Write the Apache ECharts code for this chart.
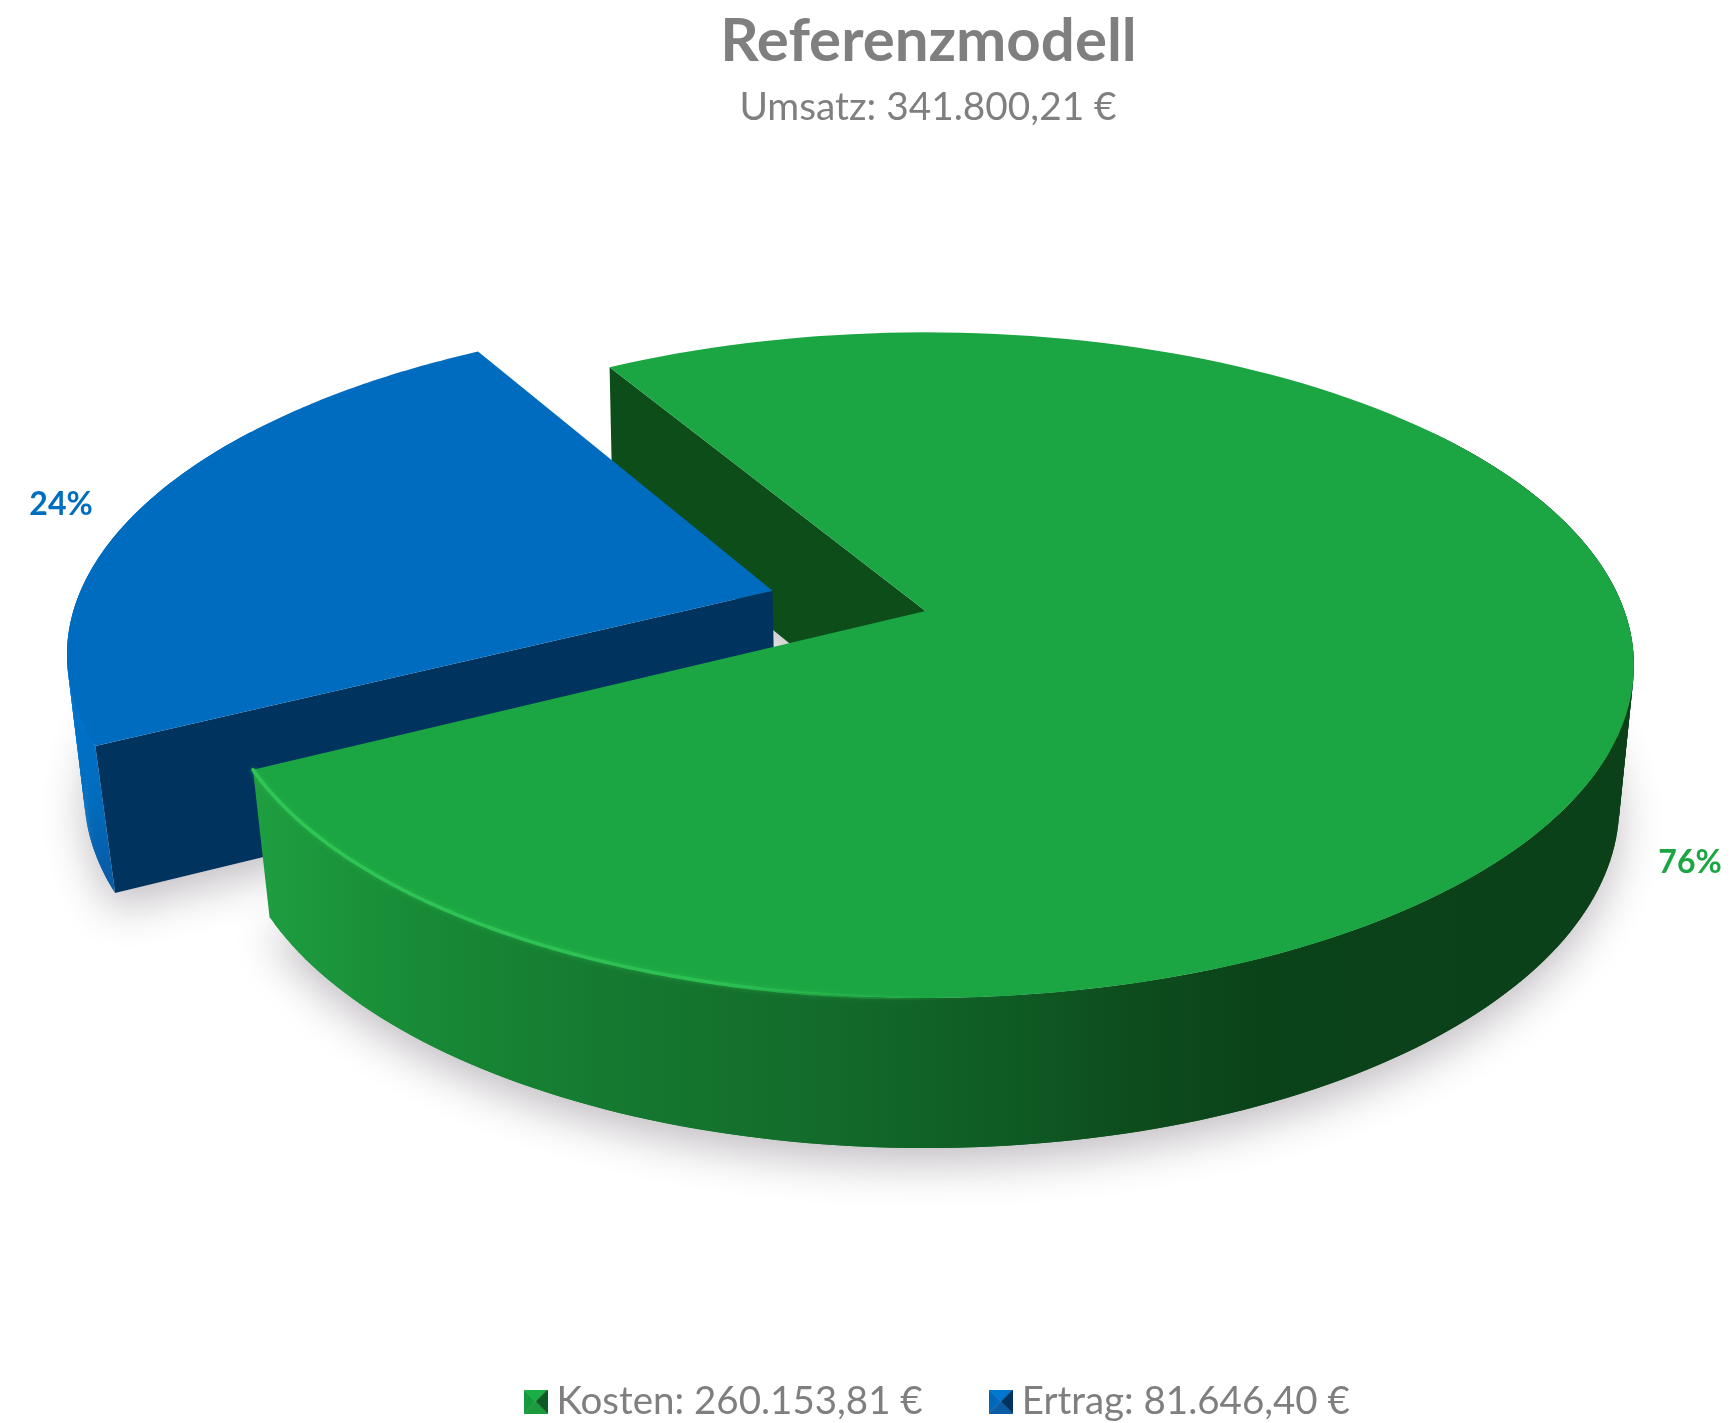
<!DOCTYPE html>
<html><head><meta charset="utf-8">
<style>html,body{margin:0;padding:0;background:#fff}#c{width:1734px;height:1423px}</style>
<script src="https://cdn.jsdelivr.net/npm/echarts@6/dist/echarts.min.js"></script>
</head><body><div id="c"></div>
<script>
const categories = ['Kosten', 'Ertrag'];
const values = [260153.81, 81646.40];
const valueTexts = ['260.153,81 €', '81.646,40 €'];
const titleText = 'Referenzmodell';
const subtitleText = 'Umsatz: 341.800,21 €';

const total = values.reduce((a, b) => a + b, 0);
const FONT = 'Lato, "Open Sans", sans-serif';
const GREY = '#7f7f7f';
const CX = 925.5, START_DEG = 329;
const TOP = {cy: 611, R: 699, H: 324, k: 0.1628};
const BOT = {cy: 754, R: 686, H: 335, k: 0.15};
const EXPLODE = [0, 0.23];
const LABEL_POS = [[1690, 863], [61, 505]];
const LABEL_COLOR = ['#1ca643', '#006ebe'];
const LABEL_FONT = 'bold 32px ' + FONT;

const rad = d => d * Math.PI / 180;
function proj(p, u, v) {
  const w = 1 + p.k * v;
  return [CX + p.R * u / w, p.cy - p.H * v / w];
}
function seriesOf(i) {
  let a0 = START_DEG;
  for (let j = 0; j < i; j++) a0 += values[j] / total * 360;
  const a1 = a0 + values[i] / total * 360;
  const mid = rad((a0 + a1) / 2);
  const e = EXPLODE[i];
  return {a0, a1, ou: Math.sin(mid) * e, ov: Math.cos(mid) * e};
}
function arc(p, s, from, to) {
  const pts = [], n = 160;
  for (let t = 0; t <= n; t++) {
    const d = rad(from + (to - from) * t / n);
    pts.push(proj(p, Math.sin(d) + s.ou, Math.cos(d) + s.ov));
  }
  return pts;
}
const hGrad = (x0, x1, stops) => ({type: 'linear', x: x0, y: 0, x2: x1, y2: 0, global: true,
  colorStops: stops.map(s => ({offset: (s[0] - x0) / (x1 - x0), color: s[1]}))});
const poly = (points, style, z2) => ({type: 'polygon', shape: {points}, style, z2, silent: true});
const line = (points, stroke, lineWidth, z2, glow) => ({type: 'polyline', shape: {points},
  style: {stroke, lineWidth, fill: null, lineCap: 'round', shadowBlur: glow ? 5 : 0, shadowColor: glow || 'transparent'}, z2, silent: true});
const shadow = {fill: '#fff', shadowBlur: 42, shadowColor: 'rgba(70,60,70,0.32)', shadowOffsetY: 16};
const label = (i, val) => ({type: 'text', x: LABEL_POS[i][0], y: LABEL_POS[i][1], z2: 20, silent: true,
  style: {text: Math.round(val / total * 100) + '%', fill: LABEL_COLOR[i], font: LABEL_FONT, align: 'center', verticalAlign: 'middle'}});
// the side wall is swept as overlapping strips so that its silhouette joins the two rims
function strips(s, from, to, fill, z2) {
  const a = arc(TOP, s, from, to), b = arc(BOT, s, from, to), out = [];
  for (let i = 0; i + 2 < a.length; i += 1) out.push(poly([a[i], a[i + 2], b[i + 2], b[i]], {fill}, z2));
  return out;
}

function renderKosten(params, api) {
  const s = seriesOf(0);
  const apexT = proj(TOP, s.ou, s.ov), apexB = proj(BOT, s.ou, s.ov);
  const topRim = arc(TOP, s, s.a0, s.a1), botRim = arc(BOT, s, s.a0, s.a1);
  const wall = hGrad(260, 1650, [[260, '#1e9e40'], [420, '#188a36'], [600, '#157a30'], [820, '#136b2b'],
    [1000, '#0f5c25'], [1130, '#0d4d1d'], [1260, '#0b4319'], [1650, '#0b4019']]);
  return {type: 'group', children: [
    poly(botRim.concat([apexB]), shadow, 1),
    poly([topRim[0], apexT, apexB, botRim[0]], {fill: '#0c4d1a'}, 2),
    ...strips(s, s.a1 - 190, s.a1, wall, 10),
    poly(topRim.concat([apexT]), {fill: '#1ca643'}, 11),
    line(arc(TOP, s, s.a1 - 70, s.a1), hGrad(260, 950, [[260, '#30c656'], [720, '#2cc052'], [950, 'rgba(40,184,76,0)']]), 3.5, 12, 'rgba(44,192,82,0.55)'),
    label(0, api.value(0))
  ]};
}
function renderErtrag(params, api) {
  const s = seriesOf(1);
  const apexT = proj(TOP, s.ou, s.ov), apexB = proj(BOT, s.ou, s.ov);
  const topRim = arc(TOP, s, s.a0, s.a1), botRim = arc(BOT, s, s.a0, s.a1);
  const wall = {type: 'linear', x: 0, y: 640, x2: 0, y2: 900, global: true,
    colorStops: [{offset: 0, color: '#0078d4'}, {offset: 0.6, color: '#006cbe'}, {offset: 1, color: '#0a57a0'}]};
  return {type: 'group', children: [
    poly(botRim.concat([apexB]), shadow, 1),
    ...strips(s, s.a0, s.a0 + 60, wall, 3),
    poly([topRim[0], apexT, apexB, botRim[0]], {fill: '#00335e'}, 4),
    poly(topRim.concat([apexT]), {fill: '#006cbf'}, 5),
    label(1, api.value(0))
  ]};
}
function bevelIcon(c) {
  const cv = document.createElement('canvas'); cv.width = cv.height = 48;
  const g = cv.getContext('2d'), tri = (pts, col) => { g.fillStyle = col; g.beginPath();
    pts.forEach((p, i) => i ? g.lineTo(p[0], p[1]) : g.moveTo(p[0], p[1])); g.closePath(); g.fill(); };
  tri([[0, 0], [48, 0], [24, 24]], c[0]);
  tri([[0, 0], [0, 48], [24, 24]], c[1]);
  tri([[48, 0], [48, 48], [24, 24]], c[2]);
  tri([[0, 48], [48, 48], [24, 24]], c[3]);
  return 'image://' + cv.toDataURL();
}
const names = categories.map((c, i) => c + ': ' + valueTexts[i]);
const chart = echarts.init(document.getElementById('c'), null, {width: 1734, height: 1423, renderer: 'canvas'});
chart.setOption({
  animation: false,
  backgroundColor: '#fff',
  title: [
    {text: titleText, left: 923.5, top: 7, textAlign: 'center',
     textStyle: {fontFamily: FONT, fontWeight: 'bold', fontSize: 60, color: GREY}},
    {text: subtitleText, left: 923, top: 83, textAlign: 'center',
     textStyle: {fontFamily: FONT, fontWeight: 'normal', fontSize: 38.8, color: GREY}}
  ],
  legend: {
    left: 518.5, top: 1377, itemWidth: 24, itemHeight: 24, itemGap: 66,
    textStyle: {fontFamily: FONT, fontSize: 38.5, color: GREY, padding: [0, 0, 0, 4]},
    data: [
      {name: names[0], icon: bevelIcon(['#1cae46', '#149a3c', '#0c5a22', '#1b9a3e'])},
      {name: names[1], icon: bevelIcon(['#0078d0', '#0068b8', '#00335e', '#0a5ca5'])}
    ]
  },
  series: [
    {type: 'custom', name: names[0], coordinateSystem: 'none', data: [values[0]], renderItem: renderKosten, itemStyle: {color: '#149a3c'}},
    {type: 'custom', name: names[1], coordinateSystem: 'none', data: [values[1]], renderItem: renderErtrag, itemStyle: {color: '#0068b8'}}
  ]
});
</script></body></html>
